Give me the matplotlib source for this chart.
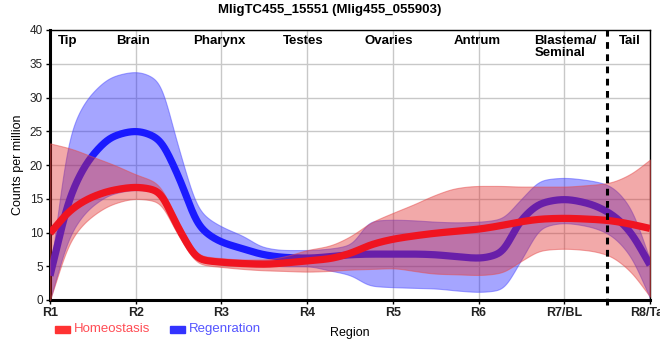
import numpy as np
import matplotlib
matplotlib.use("Agg")
import matplotlib.pyplot as plt
from matplotlib.patches import Rectangle

# ---- data ----
positions = [1.0, 1.25, 1.5, 1.75, 2.0, 2.25, 2.5, 2.75, 3.0, 3.25, 3.5, 3.75, 4.0,
             4.25, 4.5, 4.75, 5.0, 5.25, 5.5, 5.75, 6.0, 6.25, 6.5, 6.75, 7.0,
             7.25, 7.5, 7.75, 8.0]

homeo_mean = [9.9, 13.4, 15.3, 16.3, 16.7, 16.2, 10.6, 6.0, 5.6, 5.4, 5.3, 5.5, 5.8,
              6.1, 6.9, 8.2, 9.0, 9.5, 9.9, 10.2, 10.5, 11.0, 11.6, 12.0, 12.1,
              12.0, 11.8, 11.3, 10.6]
homeo_hi = [23.2, 22.4, 21.2, 20.0, 18.6, 17.3, 11.5, 6.6, 6.2, 6.0, 6.0, 6.5, 7.4,
            8.0, 9.4, 11.5, 12.9, 14.2, 15.6, 16.6, 16.9, 16.9, 16.8, 16.8, 16.8,
            17.0, 17.3, 18.5, 20.8]
homeo_lo = [0.0, 9.0, 12.5, 14.3, 15.0, 14.6, 9.5, 5.3, 4.9, 4.6, 4.4, 4.3, 4.2,
            4.3, 4.5, 4.6, 4.7, 4.3, 3.9, 3.8, 3.7, 4.0, 5.8, 7.4, 7.6,
            7.4, 6.7, 4.5, 0.5]

regen_mean = [3.6, 15.8, 21.5, 24.3, 25.0, 24.0, 18.3, 10.8, 8.6, 7.6, 6.7, 6.3, 6.2,
              6.4, 6.7, 6.8, 6.8, 6.8, 6.7, 6.4, 6.2, 6.9, 11.9, 14.4, 14.9,
              14.4, 13.1, 10.4, 5.2]
regen_hi = [4.0, 25.2, 30.8, 33.2, 33.8, 32.6, 22.5, 13.2, 10.9, 9.5, 7.8, 7.4, 7.4,
            7.6, 8.2, 11.7, 11.9, 11.8, 11.6, 11.5, 11.6, 12.0, 15.0, 17.8, 18.1,
            17.8, 17.1, 14.1, 6.0]
regen_lo = [0.0, 10.0, 14.0, 15.8, 16.3, 16.0, 11.0, 6.5, 5.9, 5.6, 5.2, 5.0, 5.0,
            4.4, 3.7, 2.1, 1.9, 1.8, 1.7, 1.4, 1.2, 1.5, 6.0, 10.8, 11.4,
            11.0, 9.9, 6.9, 0.3]

tick_pos = [1, 2, 3, 4, 5, 6, 7, 8]
tick_labels = ["R1", "R2", "R3", "R4", "R5", "R6", "R7/BL", "R8/Tail"]
region_names = ["Tip", "Brain", "Pharynx", "Testes", "Ovaries", "Antrum",
                "Blastema/\nSeminal", "Tail"]
region_x = [1.21, 1.97, 2.98, 3.95, 4.95, 5.98, 6.65, 7.77]
region_ha = ["center", "center", "center", "center", "center", "center", "left", "center"]
series_names = ["Homeostasis", "Regenration"]
divider_x = 7.5


def pchip(x, y, xs):
    x = np.asarray(x, float)
    y = np.asarray(y, float)
    h = np.diff(x)
    d = np.diff(y) / h
    n = len(x)
    m = np.zeros(n)
    for k in range(1, n - 1):
        if d[k - 1] * d[k] > 0:
            w1 = 2 * h[k] + h[k - 1]
            w2 = h[k] + 2 * h[k - 1]
            m[k] = (w1 + w2) / (w1 / d[k - 1] + w2 / d[k])
    m[0] = d[0]
    m[-1] = d[-1]
    idx = np.clip(np.searchsorted(x, xs) - 1, 0, n - 2)
    t = (xs - x[idx]) / h[idx]
    h00 = 2 * t**3 - 3 * t**2 + 1
    h10 = t**3 - 2 * t**2 + t
    h01 = -2 * t**3 + 3 * t**2
    h11 = t**3 - t**2
    return (h00 * y[idx] + h10 * h[idx] * m[idx] + h01 * y[idx + 1]
            + h11 * h[idx] * m[idx + 1])


def smooth_curve(x, y, xs, sigma=0.055):
    """Monotone cubic curve through the points, lightly smoothed for rendering."""
    ys = pchip(x, y, xs)
    dx = xs[1] - xs[0]
    r = int(4 * sigma / dx)
    k = np.exp(-0.5 * (np.arange(-r, r + 1) * dx / sigma) ** 2)
    k /= k.sum()
    left = 2 * ys[0] - ys[r:0:-1]
    right = 2 * ys[-1] - ys[-2:-r - 2:-1]
    padded = np.concatenate([left, ys, right])
    out = np.convolve(padded, k, mode='valid')
    return out


plt.rcParams['font.family'] = ['Liberation Sans', 'DejaVu Sans']

fig = plt.figure(figsize=(6.6, 3.6), dpi=100)
ax = fig.add_axes([50 / 660, 60 / 360, 600 / 660, 270 / 360])

xs = np.linspace(positions[0], positions[-1], 1401)

red_line = '#f01420'
blue_line = '#1a1aff'
red_band = (0.88, 0.16, 0.16, 0.40)
blue_band = (0.12, 0.12, 1.0, 0.40)

ax.fill_between(xs, smooth_curve(positions, regen_lo, xs),
                smooth_curve(positions, regen_hi, xs),
                color=blue_band, lw=0.8, edgecolor=(0.3, 0.3, 1.0, 0.5), zorder=2)
ax.plot(xs, smooth_curve(positions, regen_mean, xs), color=blue_line, lw=5.2,
        solid_capstyle='butt', zorder=3)
ax.fill_between(xs, smooth_curve(positions, homeo_lo, xs),
                smooth_curve(positions, homeo_hi, xs),
                color=red_band, lw=0.8, edgecolor=(0.9, 0.3, 0.3, 0.5), zorder=4)
ax.plot(xs, smooth_curve(positions, homeo_mean, xs), color=red_line, lw=5.2,
        solid_capstyle='butt', zorder=5)

ax.axvline(divider_x, color='black', lw=2.2, ls=(0, (2.2, 1.8)), zorder=6, clip_on=False,
           ymin=-0.02)

ax.set_xlim(1, 8)
ax.set_ylim(0, 40)
ax.set_xticks(tick_pos)
ax.set_xticklabels(tick_labels, fontsize=9, fontweight='bold', color='#222222')
ax.set_yticks(np.arange(0, 41, 5))
ax.set_yticklabels([str(v) for v in range(0, 41, 5)], fontsize=8.5, color='#222222')
ax.tick_params(axis='both', length=3, width=1, pad=2)
ax.grid(True, color='#c8c8c8', lw=1, zorder=0)
ax.set_axisbelow(True)

for side in ['left', 'bottom']:
    ax.spines[side].set_linewidth(2.2)
for side in ['top', 'right']:
    ax.spines[side].set_linewidth(1.0)

ax.set_ylabel('Counts per million', fontsize=9, labelpad=4)
ax.set_xlabel('Region', fontsize=9)
ax.xaxis.set_label_coords(0.5, -0.1)

for name, xv, ha in zip(region_names, region_x, region_ha):
    ax.text(xv, 39.3, name, ha=ha, va='top', fontsize=9.5, fontweight='bold',
            linespacing=1.0, zorder=7)

fig.text(0.5, 1 - 10 / 360, 'MligTC455_15551 (Mlig455_055903)', ha='center', va='center',
         fontsize=9.5, fontweight='bold')

# legend
leg_y = 1 - 329 / 360
for (x0, name, lc, tc) in [(55, series_names[0], '#ff3333', '#ff4d55'),
                           (170, series_names[1], '#3333ff', '#5555ff')]:
    fig.patches.append(Rectangle((x0 / 660, leg_y - 3.5 / 360), 15 / 660, 7 / 360,
                                 transform=fig.transFigure, color=lc))
    fig.text((x0 + 19) / 660, leg_y, name, ha='left', va='center', fontsize=9.5, color=tc)

fig.savefig('out.png', dpi=100)
